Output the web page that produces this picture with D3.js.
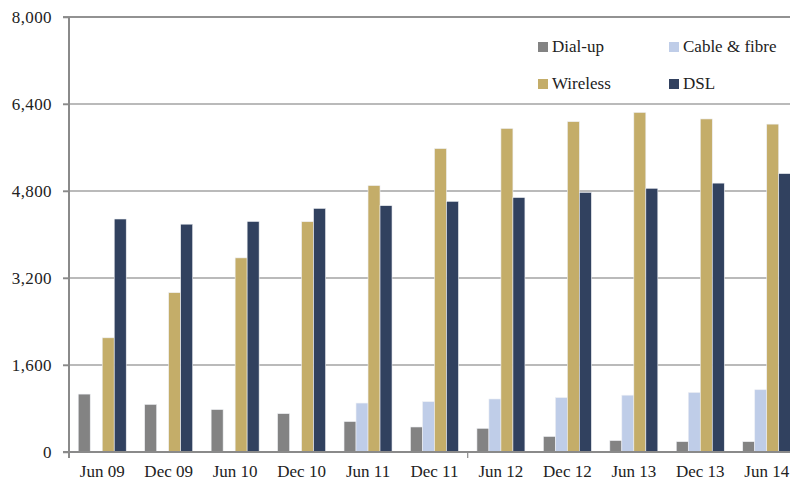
<!DOCTYPE html>
<html>
<head>
<meta charset="utf-8">
<script src="https://cdn.jsdelivr.net/npm/d3@7"></script>
<style>
  html, body { margin: 0; padding: 0; background: #fff; }
  svg { display: block; font-family: "Liberation Serif", "Times New Roman", serif; }
</style>
</head>
<body>
<svg id="chart" width="790" height="484"></svg>
<script>
// Broadband connections by technology, half-yearly ('000)
const periods   = ["Jun 09", "Dec 09", "Jun 10", "Dec 10", "Jun 11", "Dec 11",
                   "Jun 12", "Dec 12", "Jun 13", "Dec 13", "Jun 14"];
const dialUp    = [1065, 875, 780, 705, 560, 460, 435, 285, 210, 190, 190];
const cableFibre= [0, 0, 0, 0, 900, 925, 975, 1000, 1045, 1095, 1145];
const wireless  = [2100, 2930, 3570, 4235, 4900, 5580, 5950, 6075, 6245, 6125, 6030];
const dsl       = [4285, 4190, 4240, 4480, 4530, 4610, 4680, 4775, 4850, 4945, 5120];
const yTicks    = [0, 1600, 3200, 4800, 6400, 8000];

const seriesNames  = ["Dial-up", "Cable & fibre", "Wireless", "DSL"];
const seriesValues = [dialUp, cableFibre, wireless, dsl];
const seriesColors = ["#838383", "#bfcde8", "#c4ad69", "#31415f"];

const svg = d3.select("#chart");
const plotLeft = 69, plotTop = 17, plotBottom = 452, step = 66.45;
const barW = 12;

const x = d3.scaleBand()
  .domain(periods)
  .range([plotLeft, plotLeft + step * periods.length])
  .paddingInner(0).paddingOuter(0);

const y = d3.scaleLinear().domain([0, 8000]).range([plotBottom, plotTop]);

// Horizontal gridlines
svg.append("g")
  .selectAll("line")
  .data(yTicks.filter(t => t > 0 && t < 8000))
  .join("line")
  .attr("x1", plotLeft - 6).attr("x2", 790)
  .attr("y1", d => y(d)).attr("y2", d => y(d))
  .attr("stroke", "#a3a3a3").attr("stroke-width", 1.5);

// Top frame line
svg.append("line")
  .attr("x1", plotLeft - 6).attr("x2", 790)
  .attr("y1", y(8000)).attr("y2", y(8000))
  .attr("stroke", "#6e6e6e").attr("stroke-width", 1.5);

// Bars, one group per period
const groups = svg.append("g")
  .selectAll("g")
  .data(periods)
  .join("g")
  .attr("transform", d => `translate(${x(d) + x.bandwidth() / 2 - barW * 2},0)`);

groups.selectAll("rect")
  .data((p, i) => seriesValues.map((vals, s) => ({ s, v: vals[i] })).filter(d => d.v > 0))
  .join("rect")
  .attr("x", d => d.s * barW)
  .attr("width", barW)
  .attr("y", d => y(d.v))
  .attr("height", d => y(0) - y(d.v))
  .attr("fill", d => seriesColors[d.s])
  .attr("stroke", "#eef0f4").attr("stroke-width", 0.6);

// Y axis
const yAxis = d3.axisLeft(y)
  .tickValues(yTicks)
  .tickSize(6)
  .tickPadding(11)
  .tickFormat(d3.format(","));
const gy = svg.append("g").attr("transform", `translate(${plotLeft},0)`).call(yAxis);
gy.select(".domain").attr("stroke", "#8a8a8a").attr("stroke-width", 2)
  .attr("d", `M0,${y(8000)}V${plotBottom + 6}`);
gy.selectAll(".tick line").attr("stroke", "#8a8a8a").attr("stroke-width", 1.5);
gy.selectAll(".tick text")
  .attr("fill", "#222").style("font-size", "17px")
  .style("font-family", "'Liberation Serif', 'Times New Roman', serif")
  .style("letter-spacing", "0.4px");

// X axis
const xAxis = d3.axisBottom(x).tickSize(0).tickPadding(13);
const gx = svg.append("g").attr("transform", `translate(0,${plotBottom})`).call(xAxis);
gx.select(".domain").attr("stroke", "#8a8a8a").attr("stroke-width", 2)
  .attr("d", `M${plotLeft - 6},0H790`);
gx.selectAll(".tick text")
  .attr("fill", "#222").style("font-size", "17px")
  .style("font-family", "'Liberation Serif', 'Times New Roman', serif");

// Divider tick between the two halves of the period range
svg.append("line")
  .attr("x1", x("Jun 12")).attr("x2", x("Jun 12"))
  .attr("y1", plotBottom).attr("y2", plotBottom + 6)
  .attr("stroke", "#8a8a8a").attr("stroke-width", 1.2);

// Legend (2 x 2)
const legendPos = [[538, 42], [669, 42], [538, 79], [669, 79]];
const legend = svg.append("g")
  .selectAll("g")
  .data(seriesNames)
  .join("g")
  .attr("transform", (d, i) => `translate(${legendPos[i][0]},${legendPos[i][1]})`);
legend.append("rect")
  .attr("width", 10).attr("height", 10)
  .attr("fill", (d, i) => seriesColors[i]);
legend.append("text")
  .attr("x", 14).attr("y", 9.5)
  .attr("fill", "#222")
  .style("font-size", "17px")
  .text(d => d);
</script>
</body>
</html>
